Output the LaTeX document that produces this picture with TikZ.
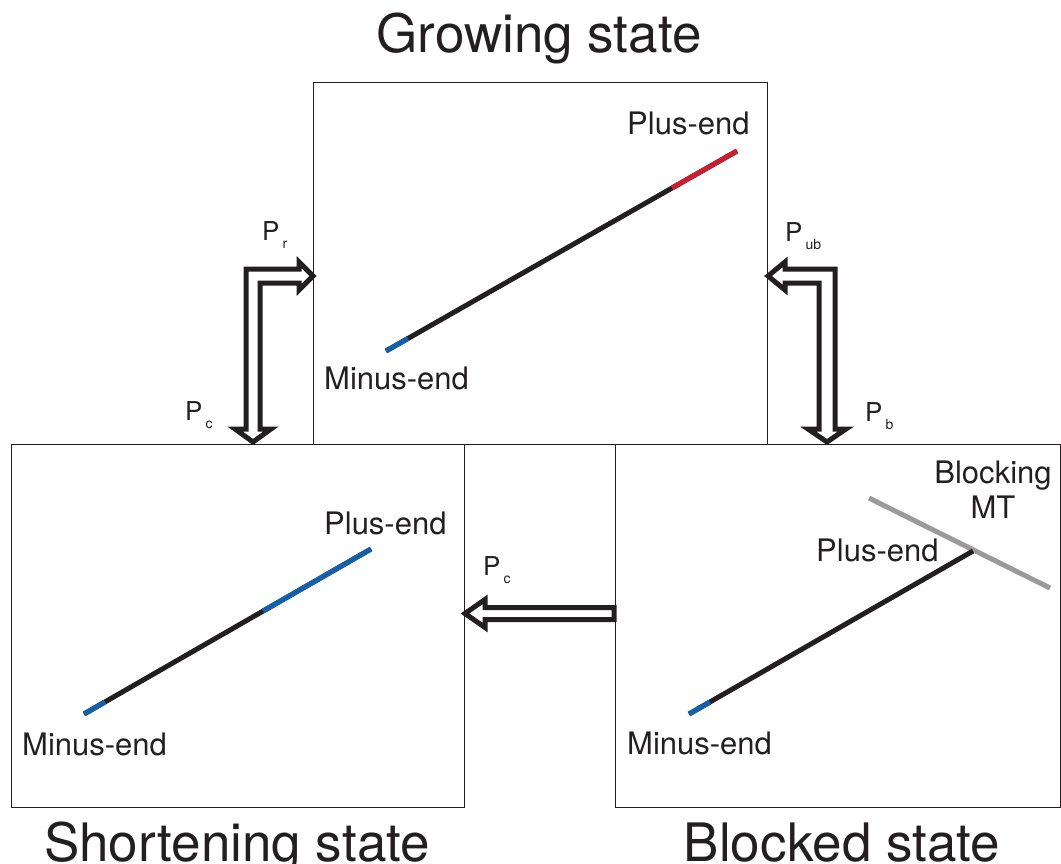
\documentclass[tikz,border=0pt]{standalone}
\usepackage{fontspec}
\setmainfont{TeX Gyre Heros}
\definecolor{mtblack}{HTML}{231F20}
\definecolor{mtblue}{HTML}{1560AA}
\definecolor{mtred}{HTML}{C8202F}
\definecolor{mtgray}{HTML}{9A9A9A}
\newcommand\Psub[1]{P\kern3pt\raisebox{-8pt}{\fontsize{14}{14}\selectfont #1}}
\tikzset{
  statebox/.style={draw=mtblack, line width=1.2pt, inner sep=0pt, anchor=north west, fill=none},
  title/.style={font=\fontsize{53}{60}\selectfont, text=mtblack, inner sep=0pt, anchor=base},
  lbl/.style={font=\fontsize{31}{34}\selectfont, text=mtblack, inner sep=0pt, anchor=base west},
  plbl/.style={font=\fontsize{26}{28}\selectfont, text=mtblack, inner sep=0pt, anchor=base west},
  mt/.style={line width=5pt, line cap=butt, draw=mtblack},
  hollowarrow/.style={draw=mtblack, fill=white, line width=5pt, line join=miter}
}
\begin{document}
\begin{tikzpicture}[x=1pt,y=-1pt]
\useasboundingbox (0,0) rectangle (1061,863);
% boxes
\node[statebox, minimum width=454pt, minimum height=362pt] (grow) at (313,82) {};
\node[statebox, minimum width=453pt, minimum height=363pt] (shrink) at (11,444) {};
\node[statebox, minimum width=444.5pt, minimum height=363pt] (block) at (615,444) {};
% titles
\node[title] (tgrow) at (539,52) {Growing state};
\node[title] (tshrink) at (237,861) {Shortening state};
\node[title] (tblock) at (842,861) {Blocked state};
% growing MT
\coordinate (g1) at (386,351);
\coordinate (g2) at (737,151);
\draw[mt] (g1) -- (g2);
\draw[mt, draw=mtblue] (g1) -- (408,338.5);
\draw[mt, draw=mtred] (672,188) -- (g2);
\node[lbl] (gplus) at (627,134) {Plus-end};
\node[lbl] (gminus) at (324,389) {Minus-end};
% shortening MT
\coordinate (s1) at (84,714);
\coordinate (s2) at (371,549);
\draw[mt] (s1) -- (s2);
\draw[mt, draw=mtblue] (s1) -- (105,702);
\draw[mt, draw=mtblue] (263,611) -- (s2);
\node[lbl] (splus) at (324,534) {Plus-end};
\node[lbl] (sminus) at (22,755) {Minus-end};
% blocked MT
\coordinate (b1) at (689,714);
\coordinate (b2) at (973,551);
\draw[mt, draw=mtgray] (869,498) -- (1050,588);
\draw[mt] (b1) -- (b2);
\draw[mt, draw=mtblue] (b1) -- (710,702);
\node[lbl] (bplus) at (816,561) {Plus-end};
\node[lbl] (bminus) at (627,754) {Minus-end};
\node[lbl, anchor=base] (bmt1) at (993,483) {Blocking};
\node[lbl, anchor=base] (bmt2) at (993,518) {MT};
% hollow arrows
\draw[hollowarrow] (253,442) -- (271,429) -- (260,429) -- (260,283) -- (299,283) -- (299,290) -- (313,276) -- (299,262) -- (299,269) -- (246,269) -- (246,429) -- (235,429) -- cycle;
\draw[hollowarrow] (768,276) -- (785,262) -- (785,269) -- (835,269) -- (835,429) -- (846,429) -- (827,442) -- (808,429) -- (819,429) -- (819,283) -- (785,283) -- (785,290) -- cycle;
\draw[hollowarrow] (465,613.5) -- (485,599.5) -- (485,607.5) -- (614,607.5) -- (614,619.5) -- (485,619.5) -- (485,627.5) -- cycle;
% probabilities
\node[plbl] (pr) at (262,240) {\Psub{r}};
\node[plbl] (pc1) at (185,420) {\Psub{c}};
\node[plbl] (pub) at (785,241) {\Psub{ub}};
\node[plbl] (pb) at (865,421) {\Psub{b}};
\node[plbl] (pc2) at (483,575) {\Psub{c}};
\end{tikzpicture}
\end{document}
